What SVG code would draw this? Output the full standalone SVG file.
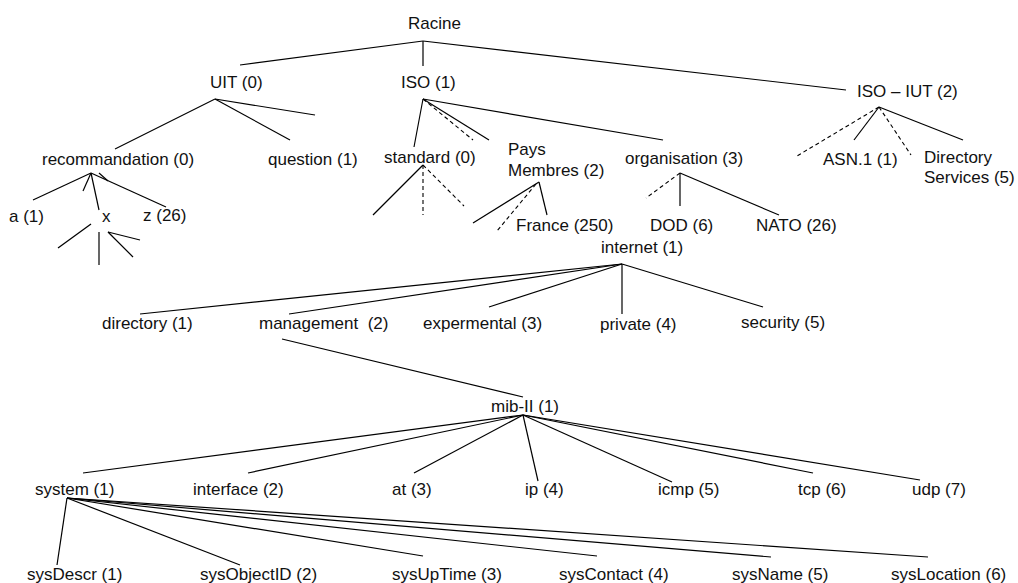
<svg xmlns="http://www.w3.org/2000/svg" width="1018" height="583" viewBox="0 0 1018 583">
  <style>
    text { font-family: "Liberation Sans", Arial, sans-serif; font-size: 17px; fill: #111; white-space: pre; }
    .edge { stroke: #000; stroke-width: 1.2; fill: none; }
    .dash { stroke: #000; stroke-width: 1.1; fill: none; stroke-dasharray: 4 3; }
  </style>
  <rect width="1018" height="583" fill="#fff"/>

  <!-- connectors -->
  <g id="connectors">
    <!-- root -->
    <line class="edge" x1="423" y1="41" x2="240" y2="65"/>
    <line class="edge" x1="423" y1="41" x2="423" y2="66"/>
    <line class="edge" x1="423" y1="41" x2="846" y2="90"/>
    <!-- UIT -->
    <line class="edge" x1="215" y1="99" x2="115" y2="149"/>
    <line class="edge" x1="215" y1="99" x2="290" y2="140"/>
    <line class="edge" x1="215" y1="99" x2="315" y2="115"/>
    <!-- ISO -->
    <line class="edge" x1="423" y1="99" x2="414" y2="147"/>
    <line class="dash" x1="423" y1="99" x2="473" y2="140"/>
    <line class="edge" x1="423" y1="99" x2="489" y2="140"/>
    <line class="edge" x1="423" y1="99" x2="663" y2="140"/>
    <!-- ISO - IUT -->
    <line class="dash" x1="879" y1="107" x2="797" y2="156"/>
    <line class="edge" x1="879" y1="107" x2="854" y2="140"/>
    <line class="dash" x1="879" y1="107" x2="911" y2="155"/>
    <line class="edge" x1="879" y1="107" x2="963" y2="140"/>
    <!-- recommandation -->
    <line class="edge" x1="91" y1="173" x2="33" y2="200"/>
    <line class="edge" x1="91" y1="173" x2="83" y2="191"/>
    <line class="edge" x1="91" y1="173" x2="99" y2="210"/>
    <line class="edge" x1="99" y1="173" x2="108" y2="181"/>
    <line class="edge" x1="91" y1="173" x2="166" y2="207"/>
    <!-- x -->
    <line class="edge" x1="91" y1="224" x2="58" y2="248"/>
    <line class="edge" x1="99" y1="232" x2="99" y2="265"/>
    <line class="edge" x1="108" y1="232" x2="140" y2="240"/>
    <line class="edge" x1="108" y1="232" x2="133" y2="257"/>
    <!-- standard -->
    <line class="edge" x1="423" y1="165" x2="373" y2="215"/>
    <line class="dash" x1="423" y1="165" x2="423" y2="215"/>
    <line class="dash" x1="423" y1="165" x2="464" y2="206"/>
    <!-- Pays Membres -->
    <line class="edge" x1="539" y1="182" x2="473" y2="223"/>
    <line class="dash" x1="536" y1="184" x2="497" y2="231"/>
    <line class="edge" x1="539" y1="182" x2="547" y2="215"/>
    <!-- organisation -->
    <line class="dash" x1="680" y1="173" x2="646" y2="198"/>
    <line class="edge" x1="680" y1="173" x2="680" y2="206"/>
    <line class="edge" x1="680" y1="173" x2="779" y2="215"/>
    <!-- internet -->
    <line class="edge" x1="622" y1="264" x2="140" y2="314"/>
    <line class="edge" x1="622" y1="264" x2="289" y2="314"/>
    <line class="edge" x1="622" y1="264" x2="489" y2="307"/>
    <line class="edge" x1="622" y1="264" x2="622" y2="314"/>
    <line class="edge" x1="622" y1="264" x2="763" y2="307"/>
    <!-- management to mib-II -->
    <line class="edge" x1="282" y1="339" x2="523" y2="397"/>
    <!-- mib-II -->
    <line class="edge" x1="523" y1="415" x2="83" y2="473"/>
    <line class="edge" x1="523" y1="415" x2="248" y2="473"/>
    <line class="edge" x1="523" y1="415" x2="414" y2="473"/>
    <line class="edge" x1="523" y1="415" x2="538" y2="481"/>
    <line class="edge" x1="523" y1="415" x2="672" y2="482"/>
    <line class="edge" x1="523" y1="415" x2="813" y2="473"/>
    <line class="edge" x1="523" y1="415" x2="920" y2="480"/>
    <!-- system -->
    <line class="edge" x1="67" y1="498" x2="57" y2="565"/>
    <line class="edge" x1="67" y1="498" x2="240" y2="565"/>
    <line class="edge" x1="67" y1="498" x2="423" y2="556"/>
    <line class="edge" x1="67" y1="498" x2="597" y2="556"/>
    <line class="edge" x1="67" y1="498" x2="771" y2="557"/>
    <line class="edge" x1="67" y1="498" x2="928" y2="557"/>
  </g>

  <!-- nodes -->
  <g id="racine"><text x="408" y="29">Racine</text></g>
  <g id="uit"><text x="210" y="88">UIT (0)</text></g>
  <g id="iso"><text x="401" y="88">ISO (1)</text></g>
  <g id="iso-iut"><text x="857" y="97">ISO – IUT (2)</text></g>

  <g id="recommandation"><text x="42" y="165">recommandation (0)</text></g>
  <g id="question"><text x="268" y="165">question (1)</text></g>
  <g id="standard"><text x="384" y="163">standard (0)</text></g>
  <g id="pays-membres"><text x="508" y="155">Pays</text><text x="508" y="176">Membres (2)</text></g>
  <g id="organisation"><text x="625" y="164">organisation (3)</text></g>
  <g id="asn1"><text x="823" y="165">ASN.1 (1)</text></g>
  <g id="directory-services"><text x="924" y="163">Directory</text><text x="924" y="183">Services (5)</text></g>

  <g id="a"><text x="9" y="222">a (1)</text></g>
  <g id="x"><text x="102" y="222">x</text></g>
  <g id="z"><text x="143" y="221">z (26)</text></g>
  <g id="france"><text x="516" y="231">France (250)</text></g>
  <g id="dod"><text x="650" y="231">DOD (6)</text></g>
  <g id="nato"><text x="756" y="231">NATO (26)</text></g>

  <g id="internet"><text x="601" y="253">internet (1)</text></g>
  <g id="directory"><text x="102" y="329">directory (1)</text></g>
  <g id="management"><text x="259" y="329">management  (2)</text></g>
  <g id="experimental"><text x="423" y="329">expermental (3)</text></g>
  <g id="private"><text x="600" y="330">private (4)</text></g>
  <g id="security"><text x="741" y="328">security (5)</text></g>

  <g id="mib-ii"><text x="491" y="412">mib-II (1)</text></g>
  <g id="system"><text x="35" y="495">system (1)</text></g>
  <g id="interface"><text x="193" y="495">interface (2)</text></g>
  <g id="at"><text x="392" y="495">at (3)</text></g>
  <g id="ip"><text x="525" y="495">ip (4)</text></g>
  <g id="icmp"><text x="658" y="495">icmp (5)</text></g>
  <g id="tcp"><text x="798" y="495">tcp (6)</text></g>
  <g id="udp"><text x="912" y="495">udp (7)</text></g>

  <g id="sysDescr"><text x="27" y="580">sysDescr (1)</text></g>
  <g id="sysObjectID"><text x="200" y="580">sysObjectID (2)</text></g>
  <g id="sysUpTime"><text x="392" y="580">sysUpTime (3)</text></g>
  <g id="sysContact"><text x="559" y="580">sysContact (4)</text></g>
  <g id="sysName"><text x="732" y="580">sysName (5)</text></g>
  <g id="sysLocation"><text x="891" y="580">sysLocation (6)</text></g>
</svg>
